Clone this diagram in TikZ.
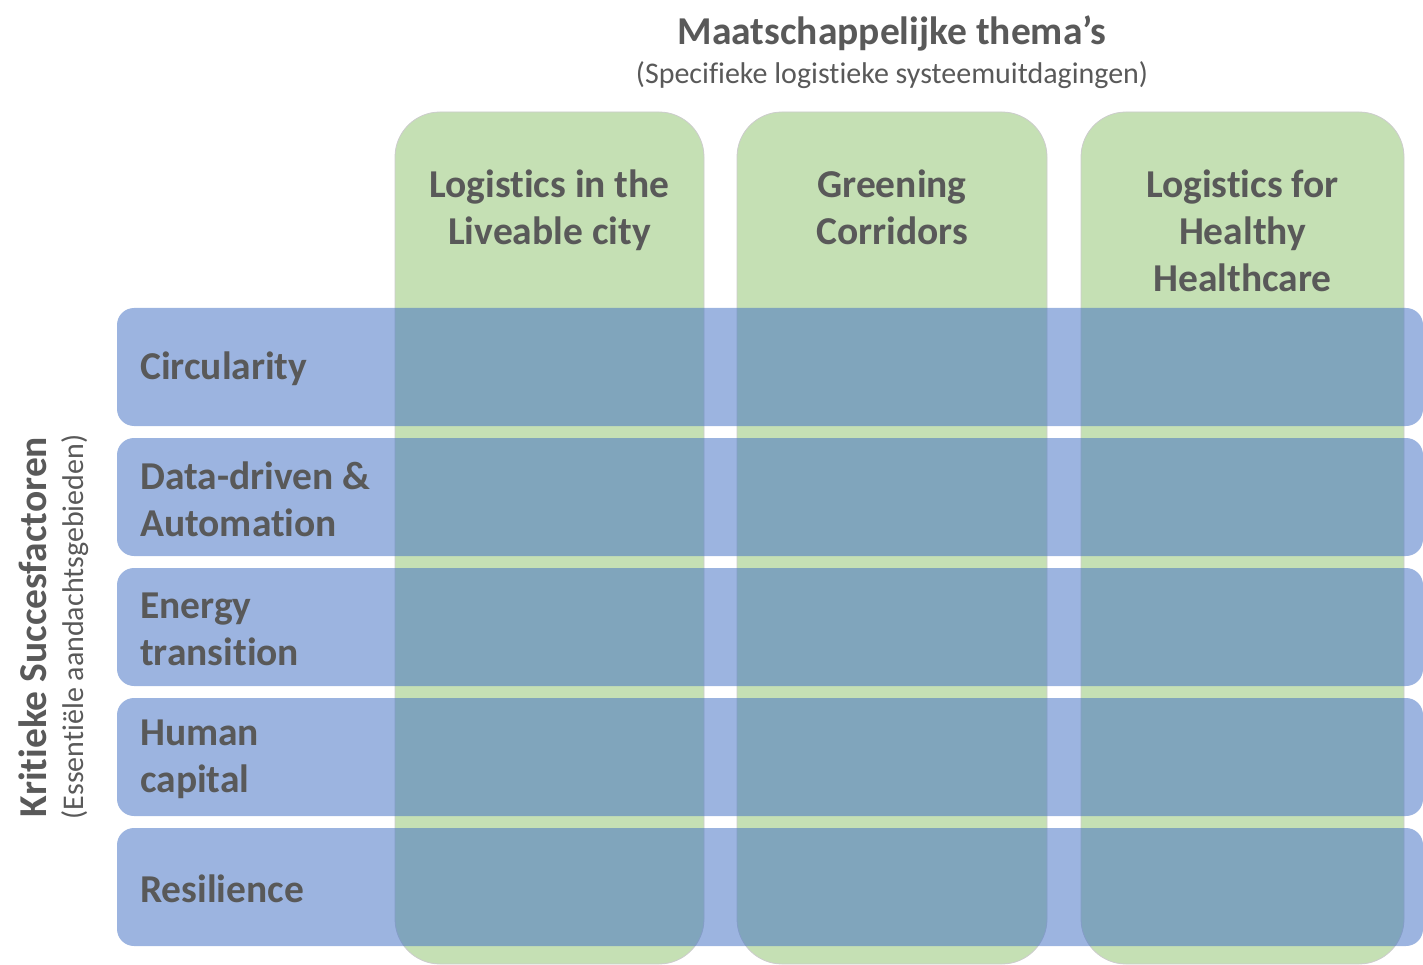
\documentclass[tikz,border=0pt]{standalone}
\usepackage{fontspec}
\setmainfont{Carlito}[Ligatures = NoCommon]
\usetikzlibrary{positioning}
\definecolor{themegreen}{HTML}{C5E0B4}
\definecolor{factorblue}{HTML}{4472C4}
\definecolor{textgray}{HTML}{595959}

\begin{document}
\begin{tikzpicture}[
		x = 1pt, y = -1pt,
		theme/.style = {shape = rectangle, fill = themegreen, draw = black!20, line width = 0.8pt, rounded corners = 45pt, minimum height = 852pt, inner sep = 0pt, outer sep = 0pt},
		factor/.style = {shape = rectangle, fill = factorblue, fill opacity = 0.53, rounded corners = 17pt, minimum width = 1306pt, minimum height = 118pt, inner sep = 0pt, outer sep = 0pt},
		big/.style = {text = textgray, font = \fontsize{39.5}{47}\selectfont\bfseries, inner sep = 0pt},
		small/.style = {text = textgray, font = \fontsize{30}{36}\selectfont, inner sep = 0pt},
		header/.style = {big, align = center},
		factorlabel/.style = {big, align = left, anchor = west}
	]
		\useasboundingbox (0, 0) rectangle (1423, 965);

		\node (title) [big] at (892, 33) {Maatschappelijke thema's};
		\node (subtitle) [small] at (892, 75) {(Specifieke logistieke systeemuitdagingen)};

		\node (c1) [theme, minimum width = 309pt] at (549.5, 538) {};
		\node (c2) [theme, minimum width = 310pt] at (892, 538) {};
		\node (c3) [theme, minimum width = 323pt] at (1242.5, 538) {};

		\node (h1) [header, below = 58pt of c1.north] {Logistics in the\\Liveable city};
		\node (h2) [header, below = 58pt of c2.north] {Greening\\Corridors};
		\node (h3) [header, below = 58pt of c3.north] {Logistics for\\Healthy\\Healthcare};

		\node (r1) [factor] at (770, 367) {};
		\node (r2) [factor] at (770, 497) {};
		\node (r3) [factor] at (770, 627) {};
		\node (r4) [factor] at (770, 757) {};
		\node (r5) [factor] at (770, 887) {};

		\node (l1) [factorlabel] at ([xshift = 23pt, yshift = -2pt] r1.west) {Circularity};
		\node (l2) [factorlabel] at ([xshift = 23pt, yshift = -2pt] r2.west) {Data-driven \&\\Automation};
		\node (l3) [factorlabel] at ([xshift = 23pt, yshift = -2pt] r3.west) {Energy\\transition};
		\node (l4) [factorlabel] at ([xshift = 23pt, yshift = -2pt] r4.west) {Human\\capital};
		\node (l5) [factorlabel] at ([xshift = 23pt, yshift = -2pt] r5.west) {Resilience};

		\node (side) [big, rotate = 90] at (33, 627) {Kritieke Succesfactoren};
		\node (sidesub) [small, rotate = 90] at (75, 627) {(Essentiële aandachtsgebieden)};
	\end{tikzpicture}
\end{document}
